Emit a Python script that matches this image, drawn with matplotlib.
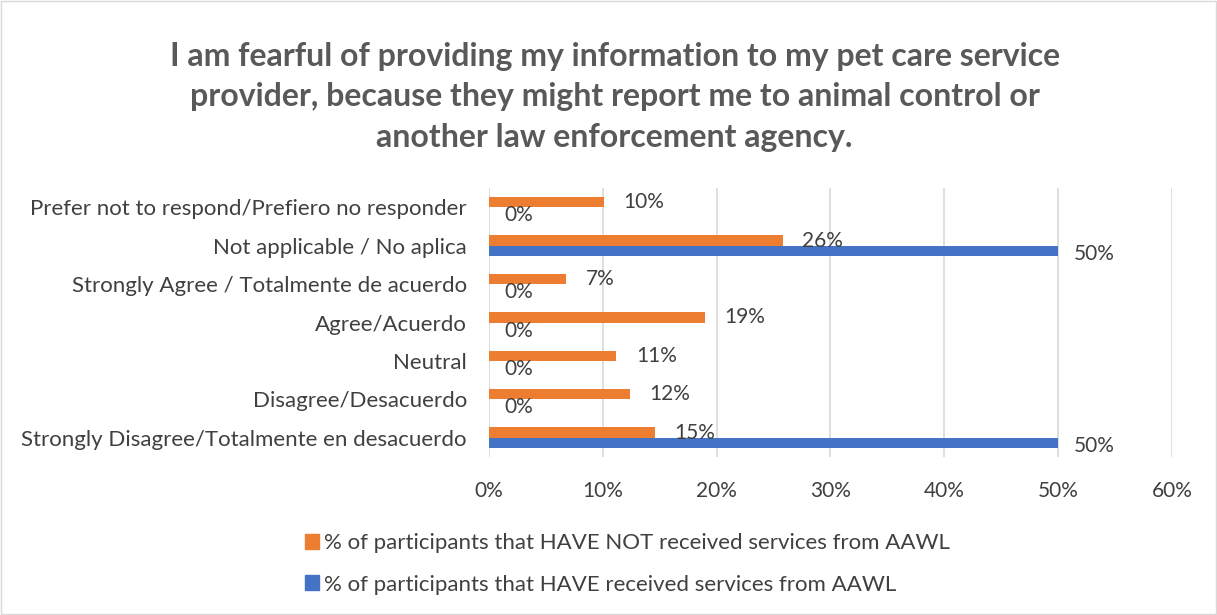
import matplotlib.pyplot as plt
from matplotlib.patches import Patch, Rectangle
import numpy as np

plt.rcParams['font.family'] = ['Lato', 'DejaVu Sans']

# data (top category first)
categories = ['Prefer not to respond/Prefiero no responder',
              'Not applicable / No aplica',
              'Strongly Agree / Totalmente de acuerdo',
              'Agree/Acuerdo',
              'Neutral',
              'Disagree/Desacuerdo',
              'Strongly Disagree/Totalmente en desacuerdo']
have_not = [10.1, 25.8, 6.8, 19.0, 11.2, 12.4, 14.6]
have = [0, 50, 0, 0, 0, 0, 50]
have_not_labels = ['10%', '26%', '7%', '19%', '11%', '12%', '15%']
have_labels = ['0%', '50%', '0%', '0%', '0%', '0%', '50%']
xticks = [0, 10, 20, 30, 40, 50, 60]

orange = '#ED7D31'
blue = '#4472C4'
txt = '#404040'

fig = plt.figure(figsize=(12.17, 6.15), dpi=100)
ax = fig.add_axes([0.4018, 0.257, 0.5612, 0.437])

y = np.arange(len(categories))
h = 0.27
ax.barh(y - h / 2, have_not, height=h, color=orange, zorder=3)
ax.barh(y + h / 2, have, height=h, color=blue, zorder=3)

for yi, v, lab in zip(y, have_not, have_not_labels):
    ax.annotate(lab, (v, yi - h / 2), xytext=(14, 0), textcoords='offset points',
                ha='left', va='center', fontsize=15, color=txt, zorder=4)
for yi, v, lab in zip(y, have, have_labels):
    ax.annotate(lab, (v, yi + h / 2), xytext=(11, -2), textcoords='offset points',
                ha='left', va='center', fontsize=15, color=txt, zorder=4)

ax.set_ylim(len(categories) - 0.5, -0.5)
ax.set_xlim(0, 60)
ax.set_xticks(xticks)
ax.set_xticklabels([f'{t}%' for t in xticks])
ax.set_yticks(y)
ax.set_yticklabels(categories)
ax.tick_params(axis='x', length=0, labelsize=15, colors=txt, pad=17)
ax.tick_params(axis='y', length=0, labelsize=16, colors=txt, pad=16)
ax.grid(axis='x', color='#d9d9d9', linewidth=1.2, zorder=0)
for s in ax.spines.values():
    s.set_visible(False)

fig.text(0.505, 0.843,
         'I am fearful of providing my information to my pet care service\n'
         'provider, because they might report me to animal control or\n'
         'another law enforcement agency.',
         ha='center', va='center', fontsize=23, fontweight='bold',
         color='#595959', linespacing=1.48)

handles = [Patch(color=orange), Patch(color=blue)]
fig.legend(handles,
           ['% of participants that HAVE NOT received services from AAWL',
            '% of participants that HAVE received services from AAWL'],
           loc='upper left', bbox_to_anchor=(0.243, 0.147), bbox_transform=fig.transFigure,
           frameon=False, fontsize=16, labelcolor=txt, handlelength=0.65,
           handleheight=0.65, handletextpad=0.2, labelspacing=0.95, borderaxespad=0)

fig.patches.append(Rectangle((0.001, 0.001), 0.998, 0.998, transform=fig.transFigure,
                             fill=False, edgecolor='#d9d9d9', linewidth=1))

fig.savefig('out.png', dpi=100)
